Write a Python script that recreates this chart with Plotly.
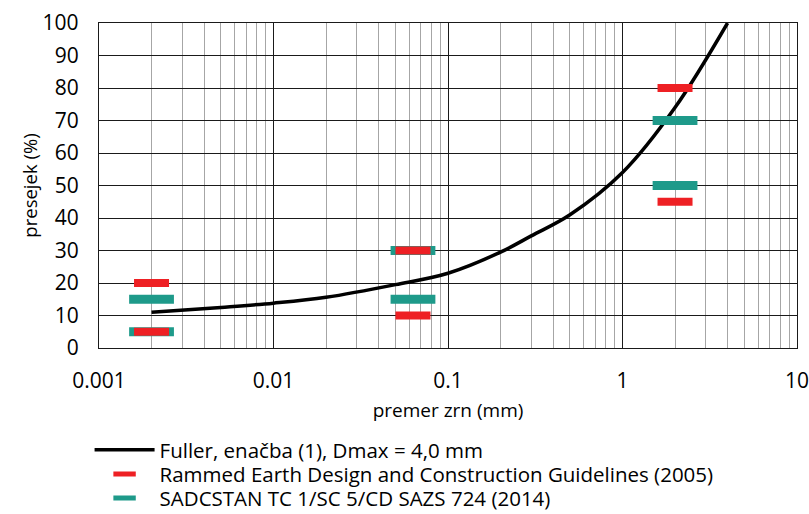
import plotly.graph_objects as go

# Fuller curve
fuller_d = [0.002, 0.005, 0.01, 0.02, 0.05, 0.1, 0.2, 0.3, 0.5, 1, 2, 4]
fuller_p = [11, 12.5, 13.8, 15.6, 19.5, 23, 29.5, 34.5, 41, 54, 74, 100]

# Rammed Earth Design and Construction Guidelines (2005) limits
rammed_d = [0.002, 0.002, 0.063, 0.063, 2, 2]
rammed_p = [20, 5, 30, 10, 80, 45]

# SADCSTAN TC 1/SC 5/CD SAZS 724 (2014) limits
sadc_d = [0.002, 0.002, 0.063, 0.063, 2, 2]
sadc_p = [15, 5, 30, 15, 70, 50]

x_tickvals = [0.001, 0.01, 0.1, 1, 10]
x_ticktext = ["0.001", "0.01", "0.1", "1", "10"]
y_tickvals = list(range(0, 101, 10))

FONT = "Open Sans"
teal = "#1e9a8a"
LEG_FONT = dict(family=FONT, size=20.5)

fig = go.Figure()
fig.add_trace(go.Scatter(
    x=fuller_d, y=fuller_p, mode="lines", line=dict(color="black", width=3.5, shape="spline"),
    name="Fuller, enačba (1), Dmax = 4,0 mm", legend="legend"))
fig.add_trace(go.Scatter(
    x=sadc_d, y=sadc_p, mode="markers",
    marker=dict(symbol="line-ew", size=32, line=dict(color=teal, width=9)),
    name="SADCSTAN TC 1/SC 5/CD SAZS 724 (2014)", legend="legend3"))
fig.add_trace(go.Scatter(
    x=rammed_d, y=rammed_p, mode="markers",
    marker=dict(symbol="line-ew", size=25, line=dict(color="#ee2024", width=8)),
    name="Rammed Earth Design and Construction Guidelines (2005)", legend="legend2"))

def leg(y):
    return dict(x=-0.0135, y=y, xanchor="left", yanchor="middle", font=LEG_FONT,
                itemwidth=60, bgcolor="rgba(0,0,0,0)")

fig.update_layout(
    width=809, height=514,
    margin=dict(l=99, r=12, t=23, b=166, autoexpand=False),
    paper_bgcolor="white", plot_bgcolor="white",
    font=dict(family=FONT, size=20, color="black"),
    showlegend=True,
    legend=leg(-0.314),
    legend2=leg(-0.388),
    legend3=leg(-0.462),
    xaxis=dict(
        type="log", range=[-3, 1], tickvals=x_tickvals, ticktext=x_ticktext,
        showgrid=True, gridcolor="#1a1a1a", gridwidth=1.3,
        minor=dict(showgrid=True, dtick="D1", gridcolor="#a6a6a6", gridwidth=1.3),
        zeroline=False, showline=True, linecolor="#1a1a1a", linewidth=1.3, mirror=True,
        ticks="", ticklabelstandoff=14, automargin=False, ticklabeloverflow="allow",
        title=dict(text="premer zrn (mm)", font=dict(size=19), standoff=10),
        tickfont=dict(size=21),
    ),
    yaxis=dict(
        range=[0, 100], tickvals=y_tickvals,
        showgrid=True, gridcolor="#1a1a1a", gridwidth=1.3,
        zeroline=False, showline=True, linecolor="#1a1a1a", linewidth=1.3, mirror=True,
        ticks="", ticklabelstandoff=15, automargin=False, ticklabeloverflow="allow",
        title=dict(text="presejek (%)", font=dict(size=18.5), standoff=0),
        tickfont=dict(size=21),
    ),
)

fig.write_html("out.html", config={"displayModeBar": False},
               post_script="document.body.style.margin='0';")
